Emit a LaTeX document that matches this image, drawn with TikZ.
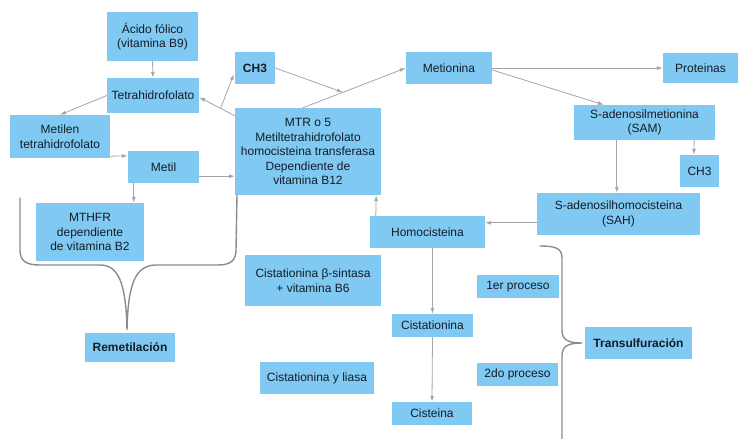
\documentclass[tikz,border=0pt]{standalone}
\usepackage{fontspec}
\setmainfont{Liberation Sans}
\usetikzlibrary{arrows.meta}
\definecolor{boxblue}{RGB}{128,201,242}
\definecolor{linegray}{RGB}{165,165,165}
\definecolor{bracegray}{RGB}{140,140,140}
\definecolor{boxtext}{RGB}{20,28,38}
\begin{document}
\begin{tikzpicture}[x=1pt,y=-1pt,
  box/.style = {fill=boxblue, inner sep=0pt, align=center,
    text=boxtext, font=\fontsize{12}{14.5}\selectfont},
  bbox/.style = {box, font=\fontsize{12}{14.5}\selectfont\bfseries},
  link/.style = {draw=linegray, line width=0.8pt,
    -{Latex[length=6pt,width=4pt]}},
  brace/.style = {draw=bracegray, line width=1.4pt, line cap=round}]
  \useasboundingbox (0,0) rectangle (742,439);

  \node[box, minimum width=91pt, minimum height=49pt] (acido) at (152.5,36.5)
    {Ácido fólico\\(vitamina B9)};
  \node[box, minimum width=92pt, minimum height=35pt] (thf) at (153,95.5)
    {Tetrahidrofolato};
  \node[box, minimum width=100pt, minimum height=43pt] (metilen) at (60,136.5)
    {Metilen\\tetrahidrofolato};
  \node[box, minimum width=71pt, minimum height=32pt] (metil) at (163.5,167)
    {Metil};
  \node[box, minimum width=108pt, minimum height=58pt] (mthfr) at (90,232)
    {MTHFR\\dependiente\\de vitamina B2};
  \node[bbox, minimum width=90pt, minimum height=29pt] (remet) at (130,347.5)
    {Remetilación};
  \node[bbox, minimum width=40pt, minimum height=32pt] (ch3a) at (255,68)
    {CH3};
  \node[box, minimum width=146pt, minimum height=87pt] (mtr) at (308,151.5)
    {MTR o 5\\Metiltetrahidrofolato\\homocisteina transferasa\\Dependiente de\\vitamina B12};
  \node[box, minimum width=86pt, minimum height=32pt] (met) at (449,68)
    {Metionina};
  \node[box, minimum width=75pt, minimum height=30pt] (prot) at (700.5,68)
    {Proteinas};
  \node[box, minimum width=141pt, minimum height=35pt] (sam) at (644.5,122.5)
    {S-adenosilmetionina\\(SAM)};
  \node[box, minimum width=39pt, minimum height=32pt] (ch3b) at (699.5,171)
    {CH3};
  \node[box, minimum width=163pt, minimum height=42pt] (sah) at (618.5,214)
    {S-adenosilhomocisteina\\(SAH)};
  \node[box, minimum width=115pt, minimum height=32pt] (homo) at (427.5,232)
    {Homocisteina};
  \node[box, minimum width=136pt, minimum height=51pt] (cbs) at (313,280.5)
    {Cistationina β-sintasa\\+ vitamina B6};
  \node[box, minimum width=81pt, minimum height=23pt] (cist) at (432.5,325.5)
    {Cistationina};
  \node[box, minimum width=114pt, minimum height=32pt] (cgl) at (317,378)
    {Cistationina y liasa};
  \node[box, minimum width=80pt, minimum height=23pt] (cys) at (432,413.5)
    {Cisteina};
  \node[box, minimum width=82pt, minimum height=23pt] (p1) at (518,286.5)
    {1er proceso};
  \node[box, minimum width=81pt, minimum height=23pt] (p2) at (517.5,374.5)
    {2do proceso};
  \node[bbox, minimum width=107pt, minimum height=32pt] (trans) at (638.5,343)
    {Transulfuración};

  \draw[link] (acido.south) -- (thf.north);
  \draw[link] (thf.west) -- (metilen.north);
  \draw[link] ([yshift=2pt]metilen.south east) -- ([yshift=-5pt]metil.north west);
  \draw[link] ([xshift=6pt]metil.south west) -- ([xshift=98pt]mthfr.north west);
  \draw[link] ([yshift=7pt]metil.south east) -- ([yshift=19pt]mtr.south west);
  \draw[link] ([yshift=-8pt]mtr.north west) -- coordinate[pos=0.4] (thfsplit) ([yshift=16pt]thf.south east);
  \draw[link] (thfsplit) -- ([xshift=-1pt,yshift=10pt]ch3a.south west);
  \draw[link] ([xshift=68pt]mtr.north west) -- coordinate[pos=0.39] (metjoin) (met.west);
  \draw[link] (ch3a.east) -- (metjoin);
  \draw[link] (met.east) -- (prot.west);
  \draw[link] ([yshift=-2pt]met.east) -- ([xshift=30pt]sam.north west);
  \draw[link] ([xshift=43pt]sam.south west) -- ([xshift=80pt]sah.north west);
  \draw[link] ([xshift=-21pt]sam.south east) -- ([xshift=14pt]ch3b.north west);
  \draw[link] ([yshift=-30pt]sah.north west) -- ([yshift=-7pt]homo.north east);
  \draw[link] ([xshift=6pt]homo.north west) -- ([xshift=-5pt]mtr.south east);
  \draw[link] (cist.north |- homo.south) -- (cist.north);
  \draw[link] (cist.south) -- (cys.north);

  % braces
  \draw[brace] (20,198) -- (20,250) .. controls (20,261) and (26,265) .. (40,265)
    -- (100,265) .. controls (118,265) and (126,282) .. (127,330)
    .. controls (128,282) and (136,266) .. (155,265)
    -- (218,265) .. controls (231,265) and (236,260) .. (236,250) -- (237,195);
  \draw[brace] (540,246) .. controls (555,246) and (562,248) .. (562,258)
    -- (562,330) .. controls (562,340) and (568,343) .. (582,343)
    .. controls (568,343) and (562,346) .. (562,356) -- (562,439);
\end{tikzpicture}
\end{document}
